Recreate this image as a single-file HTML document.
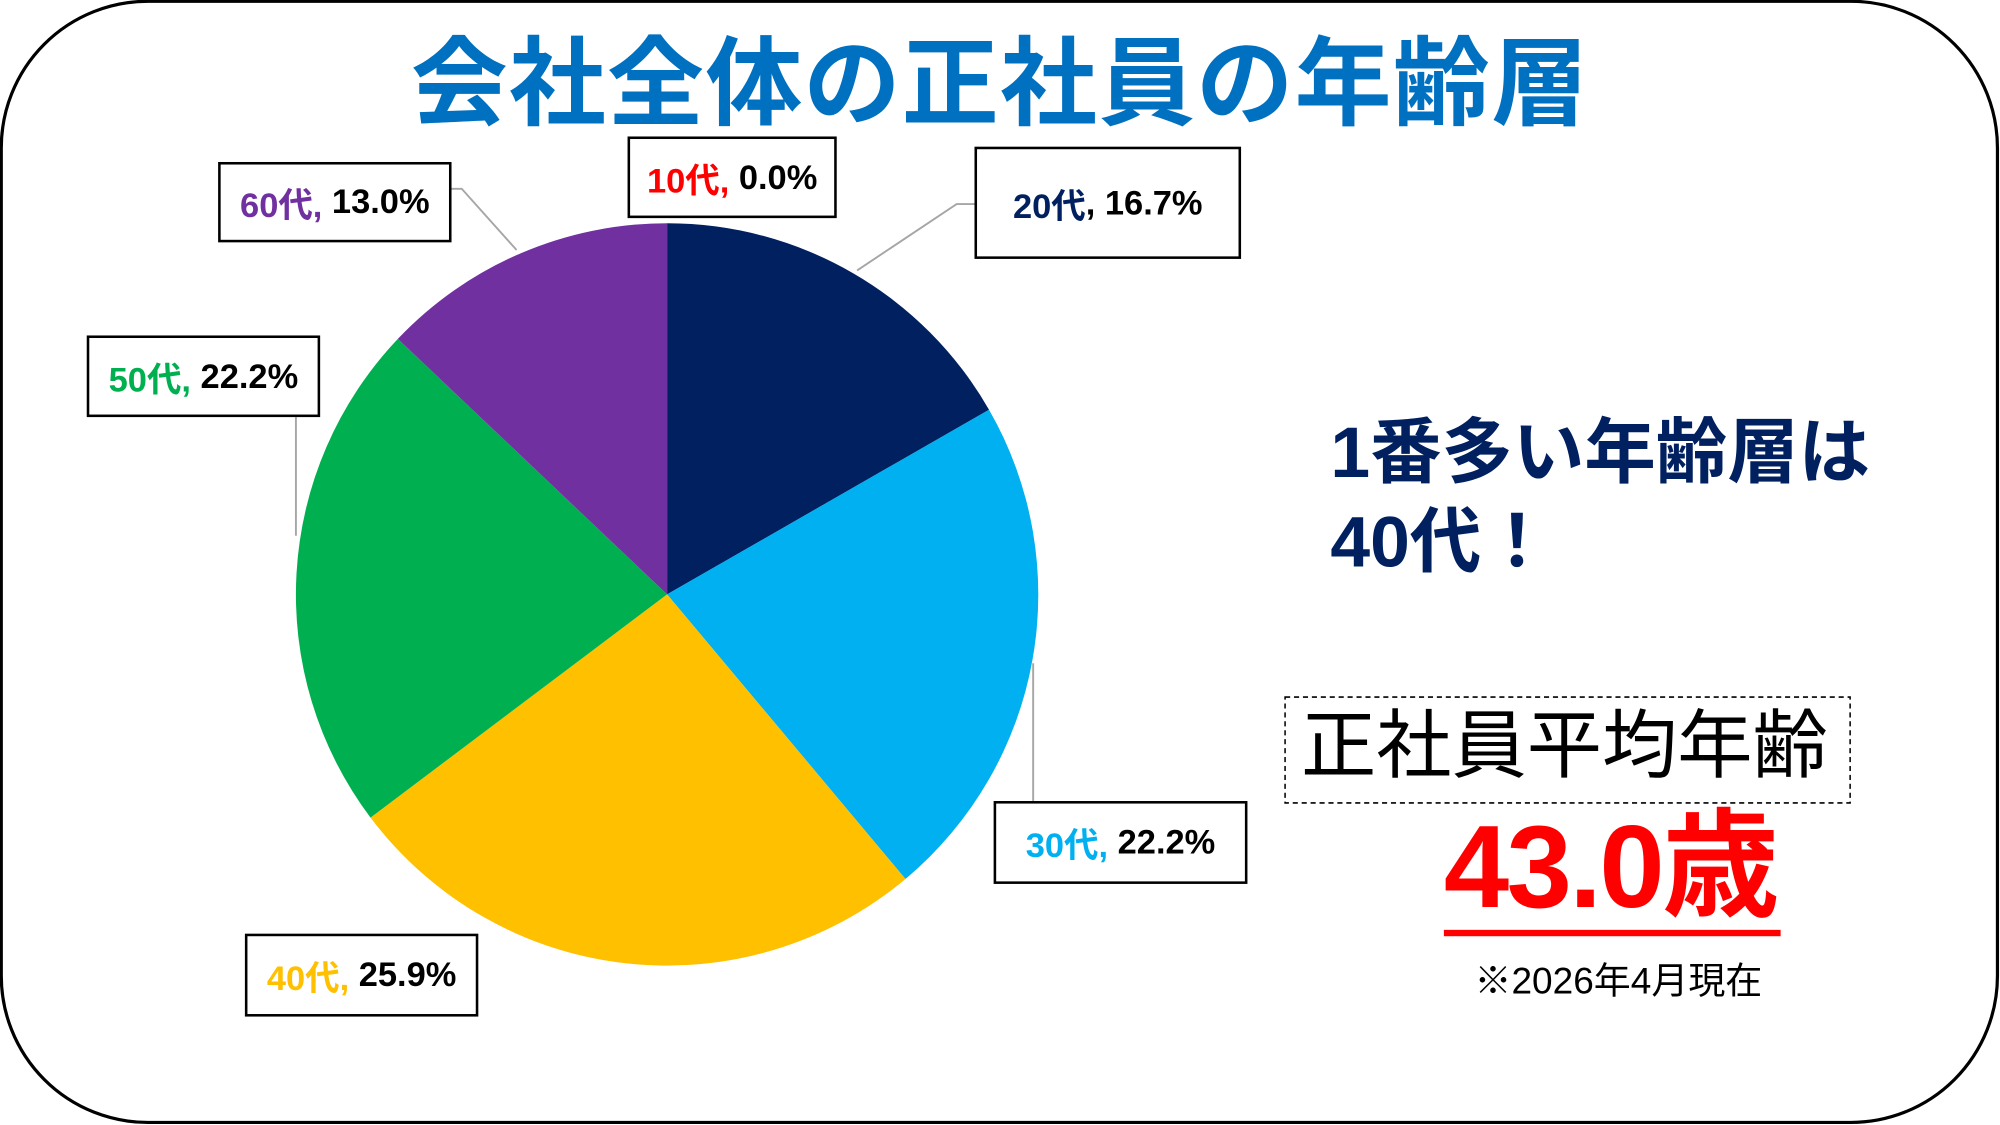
<!DOCTYPE html>
<html><head><meta charset="utf-8"><style>
html,body{margin:0;padding:0;background:#fff;}
body{width:2000px;height:1125px;overflow:hidden;}
#s{position:absolute;left:0;top:0;width:1568px;height:882px;transform:scale(1.27551);transform-origin:0 0;font-family:"Liberation Sans","Noto Sans CJK JP",sans-serif;}
.b{position:absolute;border:2px solid #000;background:#fff;box-sizing:border-box;font-weight:bold;font-size:27px;display:flex;align-items:center;justify-content:center;white-space:nowrap;}
.t{position:absolute;white-space:nowrap;}
</style></head><body><div id="s">
<svg width="1568" height="882" style="position:absolute;left:0;top:0">
<rect x="1" y="1" width="1565" height="879" rx="115" ry="115" fill="#fff" stroke="#000" stroke-width="2.5"/>
<g transform="translate(523,466)">
<path d="M0,0 L0,-291 A291,291 0 0 1 252.4,-144.8 Z" fill="#002060"/>
<path d="M0,0 L252.4,-144.8 A291,291 0 0 1 186.9,223.1 Z" fill="#00b0f0"/>
<path d="M0,0 L186.9,223.1 A291,291 0 0 1 -232.5,175.0 Z" fill="#ffc000"/>
<path d="M0,0 L-232.5,175.0 A291,291 0 0 1 -211.1,-200.3 Z" fill="#00b050"/>
<path d="M0,0 L-211.1,-200.3 A291,291 0 0 1 0,-291 Z" fill="#7030a0"/>
</g>
<g stroke="#a6a6a6" stroke-width="1.5" fill="none">
<polyline points="353,148 362,148 405,196"/>
<polyline points="764,160 750,160 672,212"/>
<polyline points="232,326 232,420"/>
<polyline points="810,520 810,628"/>
</g>
<rect x="1007.5" y="546.5" width="443" height="83" fill="none" stroke="#000" stroke-width="1.2" stroke-dasharray="4,3"/>
<rect x="1132" y="729" width="264" height="5" fill="#ff0000"/>
</svg>
<div class="t" style="left:0;width:1568px;text-align:center;top:4px;font-size:76px;font-weight:bold;color:#0070c0;letter-spacing:1px;">会社全体の正社員の年齢層</div>
<div class="b" style="left:492px;top:107px;width:164px;height:64px;"><span style="color:#ff0000">10代,</span>&nbsp;0.0%</div>
<div class="b" style="left:764px;top:115px;width:209px;height:88px;"><span style="color:#002060">20代</span>, 16.7%</div>
<div class="b" style="left:171px;top:127px;width:183px;height:63px;"><span style="color:#7030a0">60代,</span>&nbsp;13.0%</div>
<div class="b" style="left:68px;top:263px;width:183px;height:64px;"><span style="color:#00b050">50代,</span>&nbsp;22.2%</div>
<div class="b" style="left:779px;top:628px;width:199px;height:65px;"><span style="color:#00b0f0">30代,</span>&nbsp;22.2%</div>
<div class="b" style="left:192px;top:732px;width:183px;height:65px;"><span style="color:#ffc000">40代,</span>&nbsp;25.9%</div>
<div class="t" style="left:1043px;top:320px;font-size:56px;font-weight:bold;color:#002060;line-height:70px;">1番多い年齢層は<br>40代！</div>
<div class="t" style="left:1020px;top:549px;font-size:59px;color:#000;line-height:72px;">正社員平均年齢</div>
<div class="t" style="left:1132px;top:630px;font-size:92px;font-weight:bold;color:#ff0000;line-height:100px;letter-spacing:-2px;">43.0歳</div>
<div class="t" style="left:1156px;top:753px;font-size:29px;color:#000;line-height:34px;">※2026年4月現在</div>
</div></body></html>
